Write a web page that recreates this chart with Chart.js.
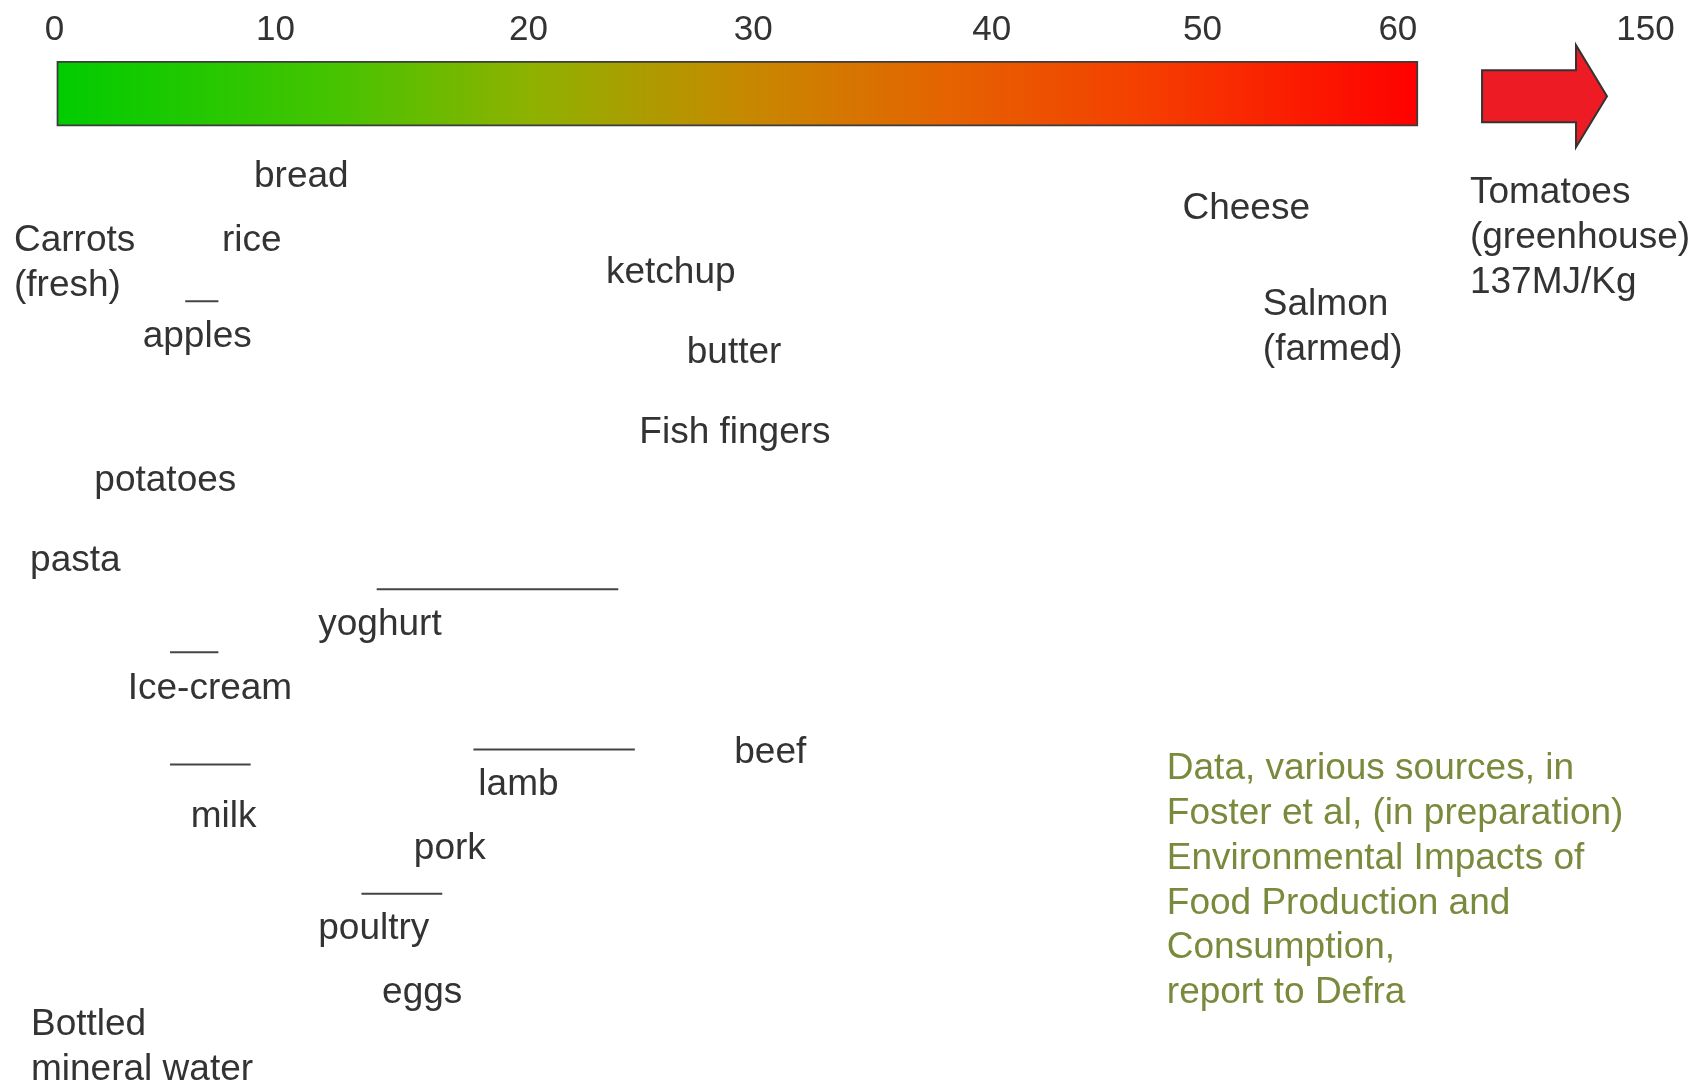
<!DOCTYPE html>
<html>
<head>
<meta charset="utf-8">
<title>Energy use of foods (MJ/kg)</title>
<script src="https://cdn.jsdelivr.net/npm/chart.js@4.4.1/dist/chart.umd.min.js"></script>
<style>
  html, body { margin: 0; padding: 0; background: #fff; }
  #chart { display: block; }
</style>
</head>
<body>
<canvas id="chart" width="1697" height="1088"></canvas>
<script>
// x axis: where each tick sits on the drawn scale, and what it says
const tickValues = [0, 9.87, 21.17, 31.21, 41.86, 51.27, 60, 71.06];
const tickLabels = ['0', '10', '20', '30', '40', '50', '60', '150'];

// the green-to-red bar and the "off the scale" arrow
const barRange = [0.1, 60.9];
const barRow = -2.93;
const arrowRange = [63.76, 69.34];
const arrowRow = -2.85;

// food labels: left edge on the x scale, row of the first baseline
const foods = [
  ['bread'], ['Carrots', '(fresh)'], ['rice'], ['apples'], ['ketchup'], ['butter'],
  ['Fish fingers'], ['potatoes'], ['pasta'], ['yoghurt'], ['Ice-cream'], ['beef'],
  ['lamb'], ['milk'], ['pork'], ['poultry'], ['eggs'], ['Bottled', 'mineral water'],
  ['Cheese'], ['Salmon', '(farmed)'], ['Tomatoes', '(greenhouse)', '137MJ/Kg']
];
const foodX   = [8.91, -1.81, 7.48, 3.94, 24.63, 28.24, 26.12, 1.78, -1.09, 11.78, 3.27, 30.36,
                 18.93, 6.08, 16.05, 11.78, 14.63, -1.05, 50.38, 53.97, 63.22];
const foodRow = [0, 2, 2, 5, 3, 5.5, 8, 9.5, 12, 14, 16, 18,
                 19, 20, 21, 23.5, 25.5, 26.5, 1, 4, 0.5];

// ranges shown as short lines above some labels
const rangeNames = ['apples', 'yoghurt', 'Ice-cream', 'milk', 'lamb', 'poultry'];
const rangeFrom  = [5.84, 14.39, 5.16, 5.16, 18.71, 13.71];
const rangeTo    = [7.32, 25.18, 7.32, 8.76, 25.92, 17.32];
const rangeRow   = [3.56, 12.56, 14.53, 18.04, 17.57, 22.08];

// source note
const sourceLines = [
  'Data, various sources, in',
  'Foster et al, (in preparation)',
  'Environmental Impacts of',
  'Food Production and',
  'Consumption,',
  'report to Defra'
];
const sourceX = 49.68;
const sourceRow = 18.5;

const FONT = "'Liberation Sans', Arial, Helvetica, sans-serif";
const TEXT = '#333333';
const LINE_HEIGHT = 44.8;
const gradientStops = [
  [0, '#00cc00'], [0.2, '#44c400'], [0.35, '#8fb100'], [0.5, '#c58a00'],
  [0.65, '#e46400'], [0.8, '#f53e00'], [1, '#ff0000']
];

function barGradient(c) {
  const chart = c.chart;
  if (!chart.chartArea) return '#c58a00';
  const xs = chart.scales.x;
  const g = chart.ctx.createLinearGradient(xs.getPixelForValue(barRange[0]), 0, xs.getPixelForValue(barRange[1]), 0);
  gradientStops.forEach(s => g.addColorStop(s[0], s[1]));
  return g;
}

const arrowPlugin = {
  id: 'arrow',
  afterDatasetsDraw(chart) {
    const xs = chart.scales.x, ys = chart.scales.y, ctx = chart.ctx;
    const x0 = xs.getPixelForValue(arrowRange[0]);
    const x1 = xs.getPixelForValue(arrowRange[1]);
    const yc = ys.getPixelForValue(arrowRow);
    const head = 31, body = 26, wing = 51;
    ctx.save();
    ctx.beginPath();
    ctx.moveTo(x0, yc - body);
    ctx.lineTo(x1 - head, yc - body);
    ctx.lineTo(x1 - head, yc - wing);
    ctx.lineTo(x1, yc);
    ctx.lineTo(x1 - head, yc + wing);
    ctx.lineTo(x1 - head, yc + body);
    ctx.lineTo(x0, yc + body);
    ctx.closePath();
    ctx.fillStyle = '#ed1c24';
    ctx.fill();
    ctx.lineWidth = 2;
    ctx.strokeStyle = '#333333';
    ctx.stroke();
    ctx.restore();
  }
};

const textLabels = {
  id: 'textLabels',
  afterDatasetsDraw(chart) {
    const ctx = chart.ctx;
    chart.data.datasets.forEach((ds, i) => {
      if (!ds.lines) return;
      const meta = chart.getDatasetMeta(i);
      ctx.save();
      ctx.font = '37px ' + FONT;
      ctx.fillStyle = ds.textColor;
      ctx.textAlign = 'left';
      ctx.textBaseline = 'alphabetic';
      meta.data.forEach((pt, j) => {
        ds.lines[j].forEach((line, k) => ctx.fillText(line, pt.x, pt.y + k * LINE_HEIGHT));
      });
      ctx.restore();
    });
  }
};

const datasets = [
  {
    type: 'bar',
    indexAxis: 'y',
    data: [{ x: barRange, y: barRow }],
    backgroundColor: barGradient,
    borderColor: '#3c3c3c',
    borderWidth: 2,
    borderSkipped: false,
    barThickness: 65
  },
  ...rangeNames.map((name, i) => ({
    type: 'line',
    label: name,
    data: [{ x: rangeFrom[i], y: rangeRow[i] }, { x: rangeTo[i], y: rangeRow[i] }],
    borderColor: '#444444',
    borderWidth: 2,
    pointRadius: 0
  })),
  {
    type: 'scatter',
    data: foods.map((f, i) => ({ x: foodX[i], y: foodRow[i] })),
    lines: foods,
    textColor: TEXT,
    pointRadius: 0
  },
  {
    type: 'scatter',
    data: [{ x: sourceX, y: sourceRow }],
    lines: [sourceLines],
    textColor: '#7a8a3c',
    pointRadius: 0
  }
];

new Chart(document.getElementById('chart'), {
  type: 'scatter',
  data: { datasets },
  options: {
    responsive: false,
    devicePixelRatio: 1,
    animation: false,
    events: [],
    layout: { padding: 0 },
    plugins: { legend: { display: false }, tooltip: { enabled: false } },
    scales: {
      x: {
        type: 'linear',
        position: 'top',
        offset: false,
        min: -2.434,
        max: 73.36,
        grid: { display: false, offset: false, drawTicks: false, tickLength: 0 },
        border: { display: false },
        afterBuildTicks: s => { s.ticks = tickValues.map(v => ({ value: v })); },
        ticks: {
          autoSkip: false,
          maxRotation: 0,
          padding: 9.5,
          color: TEXT,
          font: { family: FONT, size: 35 },
          callback: (v, i) => tickLabels[i]
        }
      },
      y: {
        type: 'linear',
        reverse: true,
        offset: false,
        grid: { offset: false },
        min: -3.95,
        max: 28.15,
        display: false
      }
    }
  },
  plugins: [arrowPlugin, textLabels]
});
</script>
</body>
</html>
